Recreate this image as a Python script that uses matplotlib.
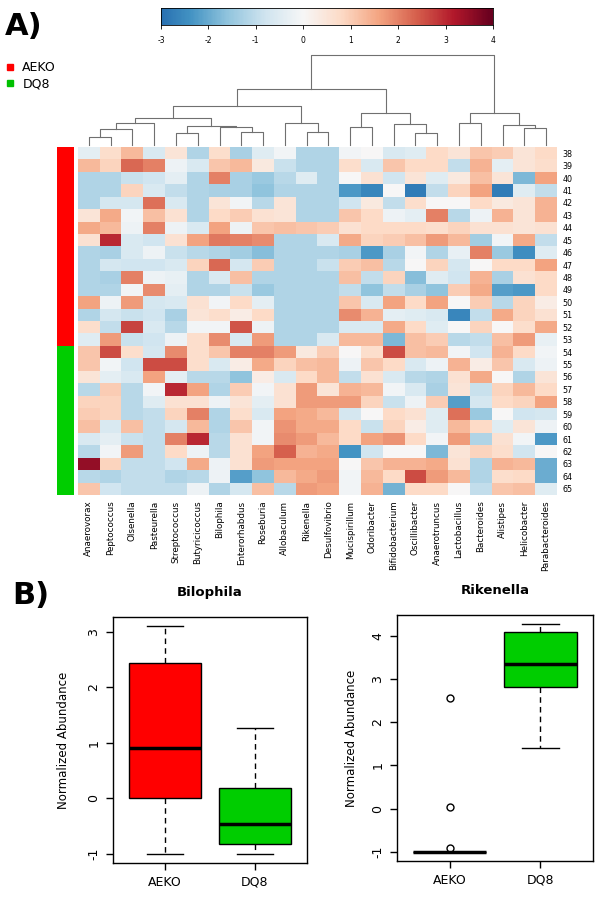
import numpy as np
import matplotlib
matplotlib.use("Agg")
import matplotlib.pyplot as plt
from matplotlib.colors import ListedColormap
from matplotlib.lines import Line2D

plt.rcParams["axes.unicode_minus"] = False

# ---- data ----
genera = ["Anaerovorax", "Peptococcus", "Olsenella", "Pasteurella", "Streptococcus",
          "Butyricicoccus", "Bilophila", "Enterorhabdus", "Roseburia", "Allobaculum",
          "Rikenella", "Desulfovibrio", "Mucispirillum", "Odoribacter", "Bifidobacterium",
          "Oscillibacter", "Anaerotruncus", "Lactobacillus", "Bacteroides", "Alistipes",
          "Helicobacter", "Parabacteroides"]
samples = [str(s) for s in range(38, 66)]
groups = ["AEKO"] * 16 + ["DQ8"] * 12

abundance = [
    [-0.4, 0.7, 1.3, -0.6, 0.5, -1.2, 0.7, -1.3, -0.5, -0.1, -1.2, -1.2, -0.1, 0.0, -0.6, -0.5, 0.8, 0.5, 1.1, 1.0, 0.5, 0.8],
    [1.3, 0.9, 2.3, 2.0, -0.2, -0.6, 1.1, 1.3, 0.4, -0.9, -1.2, -1.2, 0.7, -0.6, 1.1, 0.8, 0.8, -1.0, 1.4, -0.4, 0.5, 0.7],
    [-1.2, -1.2, -0.9, -0.8, -0.4, -1.2, 2.0, -1.3, -1.5, -1.1, -0.5, -1.2, 0.0, 0.6, -0.8, 0.5, -0.5, 0.4, 1.2, 0.5, -1.8, 1.6],
    [-1.2, -1.2, 0.9, -0.6, -1.0, -1.2, -1.3, -1.3, -1.6, -1.2, -1.2, -1.2, -2.3, -2.6, 0.0, -2.8, -1.0, 0.9, 1.6, -2.8, -0.5, -1.0],
    [-1.2, -0.7, -0.7, 2.2, -0.6, -1.2, 0.5, -0.1, -1.1, 0.5, -1.2, -1.2, -0.8, 0.4, -1.0, 0.7, 0.0, 0.0, 0.8, 0.4, 0.5, 1.4],
    [0.5, 1.5, -0.1, 1.2, 0.6, -1.2, 0.8, 1.0, 0.6, 0.5, -1.2, -1.2, 1.1, 0.8, -0.2, -0.4, 2.0, -1.1, -0.2, 1.4, 0.5, 1.4],
    [1.5, 1.3, -0.2, 2.0, -0.2, -0.6, 1.6, -0.2, 1.1, 1.2, 1.1, 1.0, 0.6, 0.8, 0.8, 0.8, 0.7, 0.9, 0.6, 0.6, 0.5, 0.6],
    [0.6, 3.0, -0.6, -0.8, 0.6, 1.6, 2.1, 2.0, 1.9, -1.2, -1.2, -0.6, 1.5, 0.9, 1.0, 1.2, 1.7, 1.3, -1.4, -0.1, 1.5, -1.0],
    [-1.2, -1.3, -0.6, -0.2, -0.9, -1.1, -1.2, -1.4, -1.7, -1.2, -1.2, -1.2, -1.3, -2.3, -1.3, -0.1, -1.2, -0.3, 2.0, -1.5, -2.5, -0.5],
    [-1.2, -0.7, -0.8, -0.8, -0.6, 0.9, 2.3, -0.7, 1.0, -1.2, -1.2, -0.9, 1.0, 1.2, -1.1, 0.0, 0.9, -0.7, 0.0, 0.8, 0.8, 1.6],
    [-1.2, -1.3, 2.0, -0.2, -0.3, -1.2, -0.6, 1.2, -1.2, -1.2, -1.2, -1.2, 1.2, -1.0, 0.9, -1.7, -0.5, -0.8, 1.4, -1.3, 0.6, 0.8],
    [-1.2, -1.2, -0.1, 1.9, -0.4, -1.2, -1.2, -0.9, -1.5, -1.2, -1.2, -1.2, -1.0, -1.6, -1.0, -1.3, -1.6, 1.0, 1.5, -2.2, -2.3, 0.8],
    [1.6, -0.2, 1.7, -0.7, -0.6, 0.6, -0.1, 0.8, -0.4, -1.2, -1.2, -1.2, 1.1, -0.6, 1.6, 0.8, 1.6, 0.0, 1.0, -1.1, 0.9, 0.3],
    [-1.2, -0.7, -0.9, -0.8, -1.3, 0.5, 0.7, 0.3, 0.8, -1.2, -1.2, -1.2, 1.9, 1.4, -0.4, -0.5, -0.6, -2.6, -1.0, 1.5, 0.9, 0.6],
    [0.7, -1.0, 2.7, -0.6, -1.1, -0.1, -0.1, 2.5, -0.2, -1.2, -1.2, -1.2, -0.6, -0.6, 1.5, 0.8, -0.5, 0.0, 0.9, 0.0, 0.7, 1.5],
    [-0.5, 1.7, -0.9, -0.8, -0.2, 0.7, 1.9, -0.6, 1.7, -1.2, -1.2, -0.6, 1.3, 1.3, -1.8, 1.2, 1.0, -1.1, -1.0, 1.2, 1.7, -0.3],
    [1.1, 2.6, 0.7, -0.7, 1.9, 0.7, 1.1, 2.0, 2.0, 1.7, 0.4, 1.0, 0.0, 0.7, 2.6, 1.2, 1.3, -0.1, -0.8, 1.4, 0.8, -0.1],
    [1.1, -0.1, -0.8, 2.6, 2.6, 0.7, -0.6, 0.3, 1.5, 0.9, 1.2, 1.3, -0.2, 1.1, 0.8, -0.6, -0.2, 1.4, 0.3, 1.1, -0.6, -0.2],
    [0.5, -0.4, -0.6, 1.6, -0.4, -1.1, -1.1, -1.6, 0.3, -0.6, 0.8, 1.3, -1.0, 0.6, -0.6, -1.1, -1.2, 0.6, 1.5, 0.0, -1.2, 0.5],
    [-1.1, 1.0, -1.1, -0.1, 3.0, 1.6, -1.2, 1.0, -0.1, 0.6, 1.7, 0.5, 1.4, 1.3, -0.1, -0.6, -1.3, 0.5, -0.9, 0.9, 1.3, 0.8],
    [0.9, 0.9, -1.1, -0.5, 0.6, 0.6, -0.2, 0.5, -0.4, 0.6, 1.7, 1.7, 1.7, 0.9, -0.9, -0.2, 1.0, -2.2, -0.7, 0.8, 0.9, 1.6],
    [1.0, 0.9, -1.1, -1.0, 0.9, 2.0, -1.2, 0.7, -0.6, 1.6, 1.5, 1.3, -0.7, 0.0, 0.8, 0.6, -0.5, 2.2, -1.5, 0.0, -0.8, -0.7],
    [1.2, -0.6, 1.2, -1.0, -0.7, 1.3, -1.2, 1.1, -0.1, 1.8, 1.5, 1.5, 0.8, -0.9, 0.9, 0.3, -0.5, 1.3, 0.8, -0.5, 0.5, -0.2],
    [-0.6, -0.4, -0.9, -1.0, 2.0, 3.0, -1.1, 0.6, -0.1, 1.9, 1.7, 1.3, 0.8, 1.6, 1.8, 0.8, -0.1, 1.7, -1.2, 0.6, -0.1, -2.3],
    [-1.1, -0.1, 1.7, -1.0, 0.8, -0.2, -1.1, 0.6, 1.6, 2.4, 1.4, 1.5, -2.4, -0.8, 0.0, 0.0, -1.8, 0.5, 0.9, 0.7, -0.8, 0.0],
    [3.5, 0.9, -1.0, -1.0, -0.8, 1.5, -0.2, 0.6, 1.7, 1.6, 1.6, 1.6, 0.0, 1.1, 1.4, 1.4, 1.5, 0.6, -1.2, 1.4, 1.3, -2.0],
    [-1.1, -1.2, -1.0, -1.0, -1.2, -1.1, -0.2, -2.2, -1.6, 1.3, 1.5, 1.7, -0.1, 1.3, 0.8, 2.6, 1.7, 1.3, -1.2, 0.7, 0.8, -2.0],
    [1.1, -0.8, -1.0, -1.0, -1.0, -0.2, -1.2, -0.7, 1.2, -1.1, 1.7, 1.6, -0.1, 1.4, -1.9, 0.8, 0.8, 0.0, -1.0, 1.1, 1.2, -0.5],
]

# column dendrogram: merge i joins nodes left[i], right[i] at height[i]
# (nodes 0-21 are leaves, node 22+i is merge i)
merge_left = [0, 22, 23, 4, 7, 6, 25, 24, 10, 9, 29, 12, 15, 14, 33, 32, 17, 20, 19, 38, 37]
merge_right = [1, 2, 3, 5, 8, 26, 27, 28, 11, 30, 31, 13, 16, 34, 35, 36, 18, 21, 39, 40, 41]
merge_height = [8, 16, 22, 12, 13, 18, 19, 27, 13, 22, 39, 18, 12, 21, 32, 56, 22, 17, 20, 32, 90]

# boxplot summaries: low whisker, Q1, median, Q3, high whisker
box_groups = ["AEKO", "DQ8"]
bilophila_aeko = [-1.0, 0.0, 0.9, 2.43, 3.1]
bilophila_dq8 = [-1.0, -0.82, -0.47, 0.18, 1.27]
rikenella_aeko = [-1.0, -1.0, -1.0, -1.0, -1.0]
rikenella_aeko_out = [2.55, 0.03, -0.9]
rikenella_dq8 = [1.4, 2.82, 3.35, 4.08, 4.27]

RED = "#ff0000"
GREEN = "#00cd00"

W, H = 598, 900
fig = plt.figure(figsize=(W / 100, H / 100), dpi=100)


def px_axes(x0, y0, x1, y1):
    return fig.add_axes([x0 / W, 1 - y1 / H, (x1 - x0) / W, (y1 - y0) / H])


# ---- heatmap ----
ax = px_axes(78, 147, 557, 495)
ax.imshow(np.array(abundance), cmap="RdBu_r", vmin=-4, vmax=4, aspect="auto",
          interpolation="nearest")
ax.set_xticks(range(len(genera)))
ax.set_xticklabels(genera, rotation=90, fontsize=6.3)
ax.set_yticks(range(len(samples)))
ax.set_yticklabels(samples, fontsize=5.8)
ax.yaxis.tick_right()
ax.tick_params(length=0, pad=4)
for s in ax.spines.values():
    s.set_visible(False)

# group side bar
ax_g = px_axes(57, 147, 74, 495)
g_idx = np.array([[0 if g == "AEKO" else 1] for g in groups])
ax_g.imshow(g_idx, cmap=ListedColormap([RED, GREEN]), vmin=0, vmax=1,
            aspect="auto", interpolation="nearest")
ax_g.axis("off")

# dendrogram
ax_d = px_axes(78, 55, 557, 145)
pos = {i: (float(i), 0.0) for i in range(len(genera))}
for k, (a, b, h) in enumerate(zip(merge_left, merge_right, merge_height)):
    xa, ha = pos[a]
    xb, hb = pos[b]
    ax_d.plot([xa, xa, xb, xb], [ha, h, h, hb], color="#707070", lw=0.8,
              clip_on=False)
    pos[len(genera) + k] = ((xa + xb) / 2, h)
ax_d.set_xlim(-0.5, len(genera) - 0.5)
ax_d.set_ylim(0, max(merge_height))
ax_d.axis("off")

# colour key
ax_c = px_axes(161, 8, 493, 25)
grad = np.linspace(-3, 4, 300)[None, :]
ax_c.imshow(grad, cmap="RdBu_r", vmin=-4, vmax=4, aspect="auto",
            extent=[-3, 4, 0, 1])
ax_c.set_yticks([])
ax_c.set_xticks(range(-3, 5))
ax_c.tick_params(axis="x", labelsize=5.5, length=3, width=0.6, pad=5)
for s in ax_c.spines.values():
    s.set_linewidth(0.6)

# legend + panel labels
fig.legend(handles=[Line2D([], [], marker="s", ls="", color=RED, markersize=4, label="AEKO"),
                    Line2D([], [], marker="s", ls="", color="#00c000", markersize=4, label="DQ8")],
           loc="upper left", bbox_to_anchor=(6 / W, 1 - 61 / H), frameon=False,
           fontsize=9, handlelength=0.7, handletextpad=0.6, labelspacing=0.25,
           borderpad=0, borderaxespad=0)
fig.text(5 / W, 1 - 35 / H, "A)", fontsize=22, fontweight="bold")
fig.text(12 / W, 1 - 604 / H, "B)", fontsize=22, fontweight="bold")


# ---- boxplots ----
def to_stats(vals, fliers=()):
    lo, q1, med, q3, hi = vals
    return dict(whislo=lo, q1=q1, med=med, q3=q3, whishi=hi, fliers=list(fliers))


def boxpanel(rect, title, stats, yticks, ylim, ylabel_x):
    axb = px_axes(*rect)
    bp = axb.bxp(stats, positions=[1, 2], widths=0.8, patch_artist=True,
                 showfliers=True, capwidths=0.4,
                 boxprops=dict(lw=1, edgecolor="black"),
                 medianprops=dict(color="black", lw=2.5),
                 whiskerprops=dict(ls=(0, (4, 3)), lw=1, color="black"),
                 capprops=dict(lw=1, color="black"),
                 flierprops=dict(marker="o", mfc="none", mec="black", ms=5, mew=1))
    for patch, c in zip(bp["boxes"], [RED, GREEN]):
        patch.set_facecolor(c)
    axb.set_xlim(0.42, 2.58)
    axb.set_ylim(*ylim)
    axb.set_xticks([1, 2])
    axb.set_xticklabels(box_groups)
    axb.set_yticks(yticks)
    axb.tick_params(labelsize=9, length=5, width=1, pad=4)
    axb.tick_params(axis="y", labelrotation=90)
    for lab in axb.get_yticklabels():
        lab.set_va("center")
    axb.set_ylabel("Normalized Abundance", fontsize=8.5)
    axb.yaxis.set_label_coords(ylabel_x, 0.5)
    axb.set_title(title, fontsize=9.5, fontweight="bold", pad=15)
    for s in axb.spines.values():
        s.set_linewidth(1)
    return axb


boxpanel((113, 617, 307, 863), "Bilophila",
         [to_stats(bilophila_aeko), to_stats(bilophila_dq8)],
         [-1, 0, 1, 2, 3], (-1.164, 3.264), -0.22)
boxpanel((397, 615, 593, 861), "Rikenella",
         [to_stats(rikenella_aeko, rikenella_aeko_out), to_stats(rikenella_dq8)],
         [-1, 0, 1, 2, 3, 4], (-1.21, 4.48), -0.2)

fig.savefig("out.png", dpi=100)
